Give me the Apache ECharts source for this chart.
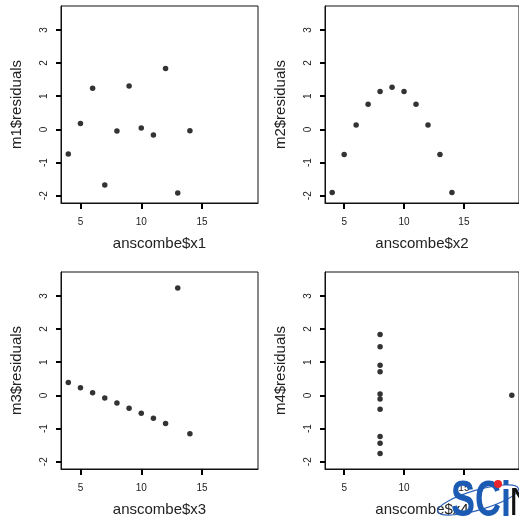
<!DOCTYPE html>
<html>
<head>
<meta charset="utf-8">
<script src="https://cdn.jsdelivr.net/npm/echarts@6/dist/echarts.min.js"></script>
<style>
  html, body { margin: 0; padding: 0; background: #fff; overflow: hidden; }
  #chart { width: 519px; height: 518px; }
</style>
</head>
<body>
<div id="chart"></div>
<script>
// anscombe x values and residuals of the four linear fits
const x1 = [10, 8, 13, 9, 11, 14, 6, 4, 12, 7, 5];
const x2 = [10, 8, 13, 9, 11, 14, 6, 4, 12, 7, 5];
const x3 = [10, 8, 13, 9, 11, 14, 6, 4, 12, 7, 5];
const x4 = [8, 8, 8, 8, 8, 8, 8, 19, 8, 8, 8];
const res1 = [0.039, -0.051, -1.921, 1.309, -0.171, -0.041, 1.239, -0.741, 1.839, -1.681, 0.179];
const res2 = [1.139, 1.139, -0.761, 1.269, 0.759, -1.901, 0.129, -1.901, 0.129, 0.759, -0.761];
const res3 = [-0.540, -0.230, 3.241, -0.390, -0.689, -1.158, 0.079, 0.389, -0.849, -0.080, 0.229];
const res4 = [-0.421, -1.241, 0.709, 1.839, 1.469, 0.039, -1.751, 0, -1.441, 0.909, -0.111];
const xTicks = [5, 10, 15];
const yTicks = [-2, -1, 0, 1, 2, 3];
const xNames = ['anscombe$x1', 'anscombe$x2', 'anscombe$x3', 'anscombe$x4'];
const yNames = ['m1$residuals', 'm2$residuals', 'm3$residuals', 'm4$residuals'];

const panels = [
  { x: x1, y: res1, left: 61, top: 6 },
  { x: x2, y: res2, left: 325, top: 6 },
  { x: x3, y: res3, left: 61, top: 272 },
  { x: x4, y: res4, left: 325, top: 272 },
];

const textColor = '#222';
const labelFont = 'Liberation Sans, Arial, sans-serif';

const grid = panels.map((p) => ({
  left: p.left,
  top: p.top,
  width: 197,
  height: 197,
  show: true,
  borderColor: '#111',
  borderWidth: 1,
}));

const xAxis = panels.map((p, i) => ({
  type: 'value',
  gridIndex: i,
  min: 3.4,
  max: 19.6,
  name: xNames[i],
  nameLocation: 'middle',
  nameGap: 33,
  nameTextStyle: { fontSize: 15, color: textColor, fontFamily: labelFont },
  axisLine: { show: true, onZero: false, lineStyle: { color: '#111' } },
  axisTick: {
    show: true,
    length: 6,
    lineStyle: { color: '#000', width: 2 },
    customValues: xTicks,
  },
  axisLabel: {
    color: textColor,
    fontSize: 10,
    margin: 14,
    fontFamily: labelFont,
    customValues: xTicks,
  },
  splitLine: { show: false },
}));

const yAxis = panels.map((p, i) => ({
  type: 'value',
  gridIndex: i,
  min: -2.22,
  max: 3.72,
  name: yNames[i],
  nameLocation: 'middle',
  nameGap: 37,
  nameRotate: 90,
  nameTextStyle: { fontSize: 15, color: textColor, fontFamily: labelFont },
  axisLine: { show: true, onZero: false, lineStyle: { color: '#111' } },
  axisTick: {
    show: true,
    length: 5,
    lineStyle: { color: '#000', width: 2 },
    customValues: yTicks,
  },
  axisLabel: {
    color: textColor,
    fontSize: 10,
    margin: 17,
    rotate: 90,
    fontFamily: labelFont,
    customValues: yTicks,
    verticalAlign: 'middle',
  },
  splitLine: { show: false },
}));

const series = panels.map((p, i) => ({
  type: 'scatter',
  xAxisIndex: i,
  yAxisIndex: i,
  symbolSize: 5.5,
  itemStyle: { color: '#000' },
  data: p.x.map((v, k) => [v, p.y[k]]),
  silent: true,
}));

const chart = echarts.init(document.getElementById('chart'));
chart.setOption({
  animation: false,
  backgroundColor: '#fff',
  grid,
  xAxis,
  yAxis,
  series,
  graphic: [
    {
      type: 'ellipse',
      shape: { cx: 478, cy: 500, rx: 42, ry: 10 },
      rotation: 0.28,
      originX: 478,
      originY: 500,
      style: { fill: 'none', stroke: '#2f63b8', lineWidth: 1.2 },
      z: 100,
    },
    {
      type: 'text',
      x: 451,
      y: 477,
      scaleX: 0.72,
      style: {
        text: 'SCi',
        fontSize: 50,
        fontWeight: 'bold',
        fontFamily: labelFont,
        fill: '#1c5bb3',
      },
      z: 101,
    },
    {
      type: 'circle',
      shape: { cx: 498, cy: 484, r: 4 },
      style: { fill: '#e8262b' },
      z: 102,
    },
    {
      type: 'text',
      x: 509,
      y: 486,
      style: { text: 'N', fontSize: 38, fontFamily: labelFont, fill: '#111' },
      z: 101,
    },
  ],
});
</script>
</body>
</html>
